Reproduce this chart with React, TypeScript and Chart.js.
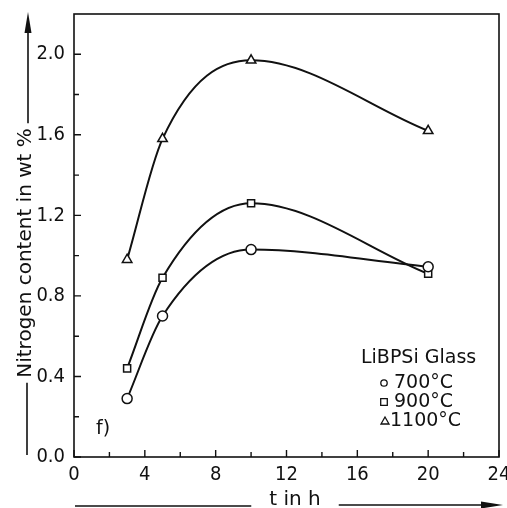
import React, { useEffect, useRef } from 'react';
import { Chart, registerables } from 'chart.js';

Chart.register(...registerables);

const timesH = [3, 5, 10, 20];
const n700 = [0.29, 0.7, 1.03, 0.945];
const n900 = [0.44, 0.89, 1.26, 0.91];
const n1100 = [0.98, 1.58, 1.97, 1.62];
const seriesLabels = ['700°C', '900°C', '1100°C'];
const seriesMarkers = ['circle', 'rect', 'triangle'];
const xTickValues = [0, 4, 8, 12, 16, 20, 24];
const xMinorValues = [2, 6, 10, 14, 18, 22];
const yTickValues = [0.0, 0.4, 0.8, 1.2, 1.6, 2.0];
const yMinorValues = [0.2, 0.6, 1.0, 1.4, 1.8];
const legendTitle = 'LiBPSi Glass';
const panelLabel = 'f)';
const yTitle = 'Nitrogen content in wt %';
const xTitle = 't in h';

const TICKFONT = '"DejaVu Sans Condensed", "DejaVu Sans", sans-serif';
const FONT = '"DejaVu Sans", sans-serif';

export default function App() {
  const ref = useRef<HTMLCanvasElement | null>(null);

  useEffect(() => {
    if (!ref.current) return;
    const seriesValues = [n700, n900, n1100];

    const decor = {
      id: 'decor',
      afterDraw(chart: any) {
        const { ctx, chartArea: a, scales } = chart;
        const xs = scales.x;
        const ys = scales.y;
        ctx.save();
        ctx.strokeStyle = '#111';
        ctx.fillStyle = '#111';
        ctx.lineWidth = 1.6;
        ctx.strokeRect(a.left, a.top, a.right - a.left, a.bottom - a.top);
        // inward ticks
        ctx.lineWidth = 1.4;
        ctx.beginPath();
        xTickValues.forEach((v) => {
          const px = xs.getPixelForValue(v);
          ctx.moveTo(px, a.bottom);
          ctx.lineTo(px, a.bottom - 7);
        });
        xMinorValues.forEach((v) => {
          const px = xs.getPixelForValue(v);
          ctx.moveTo(px, a.bottom);
          ctx.lineTo(px, a.bottom - 5);
        });
        yTickValues.forEach((v) => {
          const py = ys.getPixelForValue(v);
          ctx.moveTo(a.left, py);
          ctx.lineTo(a.left + 7, py);
        });
        yMinorValues.forEach((v) => {
          const py = ys.getPixelForValue(v);
          ctx.moveTo(a.left, py);
          ctx.lineTo(a.left + 5, py);
        });
        ctx.stroke();

        // y title with arrow
        const tx = 26;
        const tyc = 253;
        ctx.font = `20px ${FONT}`;
        const tw = ctx.measureText(yTitle).width;
        ctx.save();
        ctx.translate(tx, tyc);
        ctx.rotate(-Math.PI / 2);
        ctx.textAlign = 'center';
        ctx.textBaseline = 'middle';
        ctx.fillText(yTitle, 0, 0);
        ctx.restore();
        ctx.lineWidth = 1.6;
        ctx.beginPath();
        ctx.moveTo(tx + 1, a.bottom - 2);
        ctx.lineTo(tx + 1, tyc + tw / 2 + 5);
        ctx.moveTo(tx + 2, tyc - tw / 2 - 5);
        ctx.lineTo(tx + 2, 30);
        ctx.stroke();
        ctx.beginPath();
        ctx.moveTo(tx + 2, 12);
        ctx.lineTo(tx - 1.5, 33);
        ctx.lineTo(tx + 5.5, 33);
        ctx.closePath();
        ctx.fill();

        // x title with arrow
        const xcx = 295;
        const xy = 503;
        ctx.font = `20px ${FONT}`;
        ctx.textAlign = 'center';
        ctx.textBaseline = 'middle';
        ctx.fillText(xTitle, xcx, xy - 3);
        const xw = ctx.measureText(xTitle).width;
        ctx.beginPath();
        ctx.moveTo(75, xy + 3);
        ctx.lineTo(xcx - xw / 2 - 18, xy + 3);
        ctx.moveTo(xcx + xw / 2 + 18, xy + 2);
        ctx.lineTo(482, xy + 2);
        ctx.stroke();
        ctx.beginPath();
        ctx.moveTo(503, xy + 2);
        ctx.lineTo(481, xy - 1.5);
        ctx.lineTo(481, xy + 5.5);
        ctx.closePath();
        ctx.fill();

        // panel label
        ctx.font = `19px ${FONT}`;
        ctx.textAlign = 'left';
        ctx.textBaseline = 'alphabetic';
        ctx.fillText(panelLabel, 96, 434);

        // legend
        ctx.font = `19px ${FONT}`;
        ctx.fillText(legendTitle, 361, 363);
        const rows = [388, 407, 426];
        ctx.lineWidth = 1.3;
        seriesLabels.forEach((lab, i) => {
          const by = rows[i];
          const mx = 384;
          const my = by - 5;
          ctx.beginPath();
          if (seriesMarkers[i] === 'circle') {
            ctx.arc(mx, my, 3.2, 0, Math.PI * 2);
          } else if (seriesMarkers[i] === 'rect') {
            ctx.rect(mx - 3.3, my - 3.3, 6.6, 6.6);
          } else {
            ctx.moveTo(mx + 1, my - 4);
            ctx.lineTo(mx + 5, my + 3);
            ctx.lineTo(mx - 3, my + 3);
            ctx.closePath();
          }
          ctx.stroke();
          ctx.fillText(lab, i === 2 ? 390 : 394, by);
        });
        ctx.restore();
      },
    };

    const chart = new Chart(ref.current, {
      type: 'line',
      data: {
        datasets: seriesValues.map((vals, i) => ({
          label: seriesLabels[i],
          data: timesH.map((t, j) => ({ x: t, y: vals[j] })),
          borderColor: '#111',
          borderWidth: 2,
          cubicInterpolationMode: 'monotone' as const,
          fill: false,
          pointStyle: seriesMarkers[i] as any,
          pointRadius: seriesMarkers[i] === 'triangle' ? 5.5 : 5,
          pointBackgroundColor: '#fff',
          pointBorderColor: '#111',
          pointBorderWidth: 1.5,
        })),
      },
      options: {
        animation: false,
        responsive: false,
        maintainAspectRatio: false,
        layout: { padding: { top: 14, right: 8, left: 0, bottom: 0 } },
        plugins: { legend: { display: false }, tooltip: { enabled: false } },
        scales: {
          x: {
            type: 'linear',
            min: 0,
            max: 24,
            grid: { display: false, drawTicks: false },
            border: { display: false },
            afterBuildTicks: (s: any) => {
              s.ticks = xTickValues.map((v) => ({ value: v }));
            },
            afterFit: (s: any) => {
              s.height = 51;
              s.paddingLeft = 0;
              s.paddingRight = 0;
            },
            ticks: {
              padding: 6,
              color: '#111',
              font: { family: TICKFONT, size: 20 },
              maxRotation: 0,
              autoSkip: false,
              callback: (v: any) => String(v),
            },
          },
          y: {
            type: 'linear',
            min: 0,
            max: 2.2,
            grid: { display: false, drawTicks: false },
            border: { display: false },
            afterBuildTicks: (s: any) => {
              s.ticks = yTickValues.map((v) => ({ value: v }));
            },
            afterFit: (s: any) => {
              s.width = 74;
              s.paddingTop = 0;
              s.paddingBottom = 0;
            },
            ticks: {
              padding: 9,
              color: '#111',
              font: { family: TICKFONT, size: 20 },
              autoSkip: false,
              callback: (v: any) => Number(v).toFixed(1),
            },
          },
        },
      },
      plugins: [decor],
    });
    return () => chart.destroy();
  }, []);

  return (
    <div style={{ position: 'fixed', left: 0, top: 0, width: 507, height: 508, background: '#fff' }}>
      <canvas ref={ref} width={507} height={508} style={{ width: 507, height: 508 }} />
    </div>
  );
}
